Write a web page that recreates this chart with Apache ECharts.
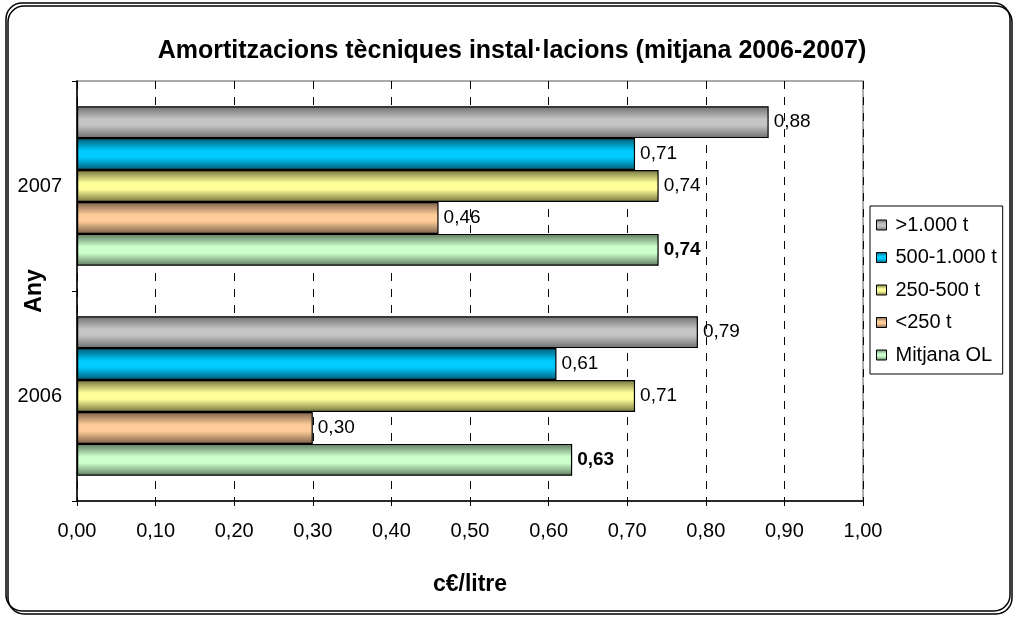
<!DOCTYPE html>
<html>
<head>
<meta charset="utf-8">
<script src="https://cdn.jsdelivr.net/npm/echarts@6/dist/echarts.min.js"></script>
<style>
  html, body { margin: 0; padding: 0; background: #fff; }
  #chart { width: 1016px; height: 617px; }
</style>
</head>
<body>
<div id="chart"></div>
<script>
// dades
var years = ['2006', '2007']
var seriesNames = ['>1.000 t', '500-1.000 t', '250-500 t', '<250 t', 'Mitjana OL']
var over1000 = [0.79, 0.88]
var from500to1000 = [0.61, 0.71]
var from250to500 = [0.71, 0.74]
var under250 = [0.30, 0.46]
var mitjanaOL = [0.63, 0.74]
var xTicks = [0, 0.1, 0.2, 0.3, 0.4, 0.5, 0.6, 0.7, 0.8, 0.9, 1.0]

var font = 'Liberation Sans, Arial, sans-serif'

// gradient vertical: fosc a les vores, clar al mig
function grad (dark, light) {
  return new echarts.graphic.LinearGradient(0, 0, 0, 1, [
    { offset: 0, color: dark },
    { offset: 0.4, color: light },
    { offset: 0.6, color: light },
    { offset: 1, color: dark }
  ])
}
var colors = [
  grad('#6e6e6e', '#c4c4c4'),
  grad('#005a73', '#00ccff'),
  grad('#73733f', '#ffff99'),
  grad('#7a6048', '#ffcc99'),
  grad('#5f7a5f', '#ccffcc')
]

function fmt (v) {
  return v.toFixed(2).replace('.', ',')
}

function makeSeries (name, data, idx, bold) {
  return {
    name: name,
    type: 'bar',
    data: data,
    barGap: '0%',
    barCategoryGap: '24%',
    itemStyle: {
      color: colors[idx],
      borderColor: '#000',
      borderWidth: 1.2
    },
    label: {
      show: true,
      position: 'right',
      distance: 5,
      color: '#000',
      fontFamily: font,
      fontSize: 19,
      fontWeight: bold ? 'bold' : 'normal',
      formatter: function (p) { return fmt(p.value) }
    }
  }
}

var myChart = echarts.init(document.getElementById('chart'))
var option = {
  animation: false,
  backgroundColor: '#fff',
  title: {
    text: 'Amortitzacions tècniques instal·lacions (mitjana 2006-2007)',
    left: 507,
    textAlign: 'center',
    top: 34,
    textStyle: { fontFamily: font, fontSize: 25, fontWeight: 'bold', color: '#000' }
  },
  legend: {
    orient: 'vertical',
    left: 870,
    top: 206,
    width: 133,
    padding: [9, 6, 9, 6],
    itemGap: 12.5,
    itemWidth: 10,
    itemHeight: 10,
    icon: 'rect',
    borderColor: '#000',
    borderWidth: 1,
    data: seriesNames,
    itemStyle: { borderColor: '#000', borderWidth: 1 },
    textStyle: { fontFamily: font, fontSize: 20, color: '#000', padding: [0, 0, 0, 4] }
  },
  graphic: [{
    type: 'rect',
    shape: { x: 6, y: 3, width: 1004, height: 608, r: 16 },
    style: {
      fill: 'none',
      stroke: '#000',
      lineWidth: 1.5,
      shadowColor: '#000',
      shadowOffsetX: 2,
      shadowOffsetY: 3,
      shadowBlur: 0
    },
    z: -10
  }],
  grid: {
    left: 77,
    right: 153,
    top: 81,
    bottom: 116,
    outerBoundsMode: 'none',
    containLabel: false,
    show: true,
    borderColor: '#909090',
    borderWidth: 1.5
  },
  xAxis: {
    type: 'value',
    min: 0,
    max: 1,
    interval: 0.1,
    name: 'c€/litre',
    nameLocation: 'middle',
    nameGap: 72,
    nameMoveOverlap: false,
    nameTextStyle: { fontFamily: font, fontSize: 23, fontWeight: 'bold', color: '#000' },
    axisLine: { show: true, lineStyle: { color: '#000', width: 1.5 } },
    axisTick: { show: true, length: 5, lineStyle: { color: '#000' } },
    axisLabel: {
      margin: 20,
      fontFamily: font,
      fontSize: 20,
      color: '#000',
      formatter: function (v) {
        var t = xTicks.find(function (x) { return Math.abs(x - v) < 1e-9 })
        return fmt(t === undefined ? v : t)
      }
    },
    splitLine: { show: true, lineStyle: { color: '#000', type: [8, 8], width: 1 } }
  },
  yAxis: {
    type: 'category',
    data: years,
    name: 'Any',
    nameLocation: 'middle',
    nameGap: 31,
    nameMoveOverlap: false,
    nameRotate: 90,
    nameTextStyle: { fontFamily: font, fontSize: 23, fontWeight: 'bold', color: '#000' },
    axisLine: { show: true, lineStyle: { color: '#000', width: 1.5 } },
    axisTick: { show: true, length: 5, lineStyle: { color: '#000' } },
    axisLabel: { margin: 15, fontFamily: font, fontSize: 20, color: '#000' }
  },
  series: [
    makeSeries(seriesNames[0], over1000, 0, false),
    makeSeries(seriesNames[1], from500to1000, 1, false),
    makeSeries(seriesNames[2], from250to500, 2, false),
    makeSeries(seriesNames[3], under250, 3, false),
    makeSeries(seriesNames[4], mitjanaOL, 4, true)
  ]
}
myChart.setOption(option)
</script>
</body>
</html>
